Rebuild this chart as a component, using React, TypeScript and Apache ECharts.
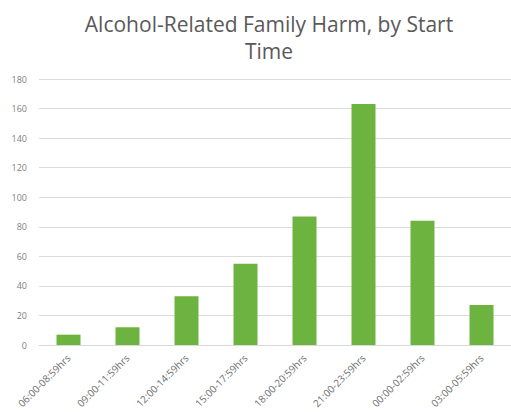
import React, { useEffect, useRef } from "react";
import * as echarts from "echarts";

const categories = [
  "06:00-08:59hrs",
  "09:00-11:59hrs",
  "12:00-14:59hrs",
  "15:00-17:59hrs",
  "18:00-20:59hrs",
  "21:00-23:59hrs",
  "00:00-02:59hrs",
  "03:00-05:59hrs",
];
const values = [7, 12, 33, 55, 87, 163, 84, 27];
const titleText = "Alcohol-Related Family Harm, by Start\nTime";

export default function App() {
  const ref = useRef<HTMLDivElement>(null);
  useEffect(() => {
    if (!ref.current) return;
    const chart = echarts.init(ref.current, undefined, { renderer: "svg" });
    chart.setOption({
      animation: false,
      backgroundColor: "#ffffff",
      textStyle: { fontFamily: "Open Sans" },
      title: {
        text: titleText,
        left: 264,
        top: 5,
        textAlign: "center",
        textStyle: {
          fontFamily: "Open Sans",
          fontSize: 21,
          fontWeight: "normal",
          color: "#595959",
          lineHeight: 27,
        },
      },
      grid: { left: 39, top: 79, width: 480, height: 266, containLabel: false },
      xAxis: {
        type: "category",
        data: categories,
        axisTick: { show: false },
        axisLine: { lineStyle: { color: "#d9d9d9", width: 1 } },
        axisLabel: {
          rotate: 45,
          interval: 0,
          fontSize: 10,
          color: "#6e6e6e",
          margin: 11,
          fontFamily: "Open Sans",
        },
      },
      yAxis: {
        type: "value",
        min: 0,
        max: 180,
        interval: 20,
        axisLine: { show: false },
        axisTick: { show: false },
        splitLine: { lineStyle: { color: "#dcdcdc", width: 1 } },
        axisLabel: { fontSize: 9, color: "#808080", margin: 12, fontFamily: "Open Sans" },
      },
      series: [
        {
          type: "bar",
          data: values,
          barWidth: 24,
          itemStyle: { color: "#6cb33f" },
        },
      ],
    });
    return () => chart.dispose();
  }, []);
  return (
    <div
      ref={ref}
      style={{ position: "fixed", left: 0, top: 0, width: 511, height: 412 }}
    />
  );
}
